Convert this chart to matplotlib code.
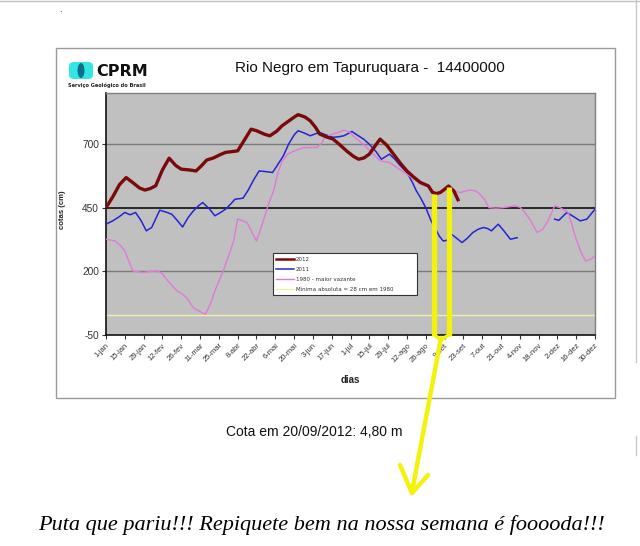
import numpy as np
import matplotlib
matplotlib.use("Agg")
import matplotlib.pyplot as plt
from matplotlib.patches import Rectangle, FancyBboxPatch, Ellipse
from matplotlib.lines import Line2D

# ---------------- data ----------------
days_2012 = [0,5,10,15,20,25,29,33,37,42,47,52,56,62,67,71,75,80,85,89,94,98,103,108,112,115,118,122,127,131,
             136,140,143,148,152,156,159,164,169,174,179,184,188,192,196,200,204,209,214,219,224,229,234,240,243,
             246,249,252,255,259,262]
vals_2012 = [450,492,540,568,548,527,519,525,536,598,644,615,601,598,594,614,637,645,658,667,670,673,715,758,752,
             745,738,732,750,771,790,805,815,806,791,765,739,728,719,697,673,652,640,645,660,690,719,695,660,625,
             594,570,549,535,510,505,510,522,535,515,481]

days_2011 = [0,5,10,14,18,22,26,30,34,40,45,49,53,57,61,65,69,72,77,81,85,89,93,96,102,106,110,114,118,124,
             128,132,136,140,143,148,152,156,159,164,169,173,177,180,183,187,192,196,201,205,208,211,215,219,224,
             228,231,234,238,242,246,248,251,254,257,261,265,269,273,277,281,284,287,290,292,296,301,306,320,334,
             337,343,348,353,358,364]
vals_2011 = [385,398,415,431,422,431,400,359,372,440,432,424,400,374,410,437,458,470,445,418,430,444,465,483,487,
             520,560,594,592,588,620,653,700,735,752,742,732,740,745,735,726,728,732,740,749,735,718,699,670,640,
             650,660,640,615,588,550,516,490,450,398,360,339,319,322,346,330,313,330,352,365,372,368,359,375,385,
             360,326,332,np.nan,405,400,431,415,398,405,444]

days_1980 = [0,7,11,14,17,20,24,28,33,39,42,45,49,53,57,60,65,69,74,78,81,86,90,95,98,101,105,109,112,116,
             121,125,128,131,135,140,147,152,157,160,163,169,173,177,181,184,189,194,199,204,208,211,216,220,224,
             229,234,240,245,250,255,259,264,268,271,275,278,282,285,290,296,304,308,311,316,321,325,329,334,338,
             344,350,354,357,360,364]
vals_1980 = [326,319,300,280,240,201,198,195,200,201,190,169,145,123,110,97,57,45,31,75,123,185,241,319,405,400,
             391,350,319,380,464,520,588,630,660,672,686,686,686,700,726,739,745,754,748,732,710,686,660,634,630,
             627,610,595,581,562,542,533,508,515,530,515,509,516,519,516,505,480,450,448,450,457,452,437,400,352,
             365,398,457,450,431,326,270,241,245,260]

min_abs = 28
ref_level = 450
tick_days = list(range(0, 365, 14))
tick_labels = ['1-jan','15-jan','29-jan','12-fev','26-fev','11-mar','25-mar','8-abr','22-abr','6-mai','20-mai',
               '3-jun','17-jun','1-jul','15-jul','29-jul','12-ago','26-ago','9-set','23-set','7-out','21-out',
               '4-nov','18-nov','2-dez','16-dez','30-dez']
y_ticks = [-50, 200, 450, 700]
series_labels = ['2012', '2011', '1980 - maior vazante', 'Mínima absoluta = 28 cm em 1980']
highlight_days = [244.5, 255]

# ---------------- figure ----------------
W, H = 640, 546
fig = plt.figure(figsize=(W/100, H/100), dpi=100)
fig.patch.set_facecolor('white')

def fx(x):
    return x / W

def fy(y):
    return 1 - y / H

# chart frame
fig.add_artist(Rectangle((fx(56), fy(398)), fx(615) - fx(56), fy(48) - fy(398),
                         transform=fig.transFigure, fill=False, edgecolor='#9a9a9a', lw=1.0))
# screenshot edges
fig.add_artist(Line2D([0, 1], [fy(0.8), fy(0.8)], transform=fig.transFigure, color='#c0c0c0', lw=1))
fig.add_artist(Line2D([fx(636), fx(636)], [fy(0), fy(362)], transform=fig.transFigure, color='#c8c8c8', lw=1))
fig.add_artist(Line2D([fx(636), fx(636)], [fy(436), fy(455)], transform=fig.transFigure, color='#c8c8c8', lw=1))
fig.text(fx(60), fy(12), '.', fontsize=6, color='black', ha='center', va='baseline')

ax = fig.add_axes([fx(106), fy(335), fx(595) - fx(106), fy(93) - fy(335)])
ax.set_facecolor('#c0c0c0')
ax.set_xlim(0, 364)
ax.set_ylim(-50, 900)

for v in (200, 700):
    ax.axhline(v, color='#7a7a7a', lw=1.0, zorder=1)
ax.axhline(ref_level, color='black', lw=1.1, zorder=1)

ax.plot(days_2011, vals_2011, color='#2424d6', lw=1.1, zorder=3, label=series_labels[1])
ax.plot(days_1980, vals_1980, color='#e07ad8', lw=1.0, zorder=3, label=series_labels[2])
ax.plot(days_2012, vals_2012, color='#7a0a0a', lw=2.4, zorder=4, label=series_labels[0])
ax.axhline(min_abs, color='#f0f0a8', lw=1.0, zorder=2, label=series_labels[3])

ax.set_xticks(tick_days)
ax.set_xticklabels(tick_labels, rotation=45, ha='right', va='top', fontsize=5.5, color='#333333',
                   rotation_mode='anchor')
ax.set_yticks(y_ticks)
ax.set_yticklabels([str(v) for v in y_ticks], fontsize=7.3, color='#333333', family='Liberation Sans')
ax.tick_params(axis='x', length=3, width=0.8, pad=2, color='#333333')
ax.tick_params(axis='y', length=3, width=0.8, pad=2, color='#333333')
for s in ('top', 'right'):
    ax.spines[s].set_color('#808080')
    ax.spines[s].set_linewidth(1.0)
for s in ('left', 'bottom'):
    ax.spines[s].set_color('#111111')
    ax.spines[s].set_linewidth(1.2)

for t in ax.get_xticklabels():
    t.set_family('Liberation Sans')

fig.text(fx(63), fy(210), 'cotas (cm)', rotation=90, ha='center', va='center', fontsize=5.6,
         fontweight='bold', family='Liberation Sans', color='#222222')
fig.text(fx(350), fy(380), 'dias', ha='center', va='center', fontsize=7, fontweight='bold',
         family='Liberation Sans', color='#222222')

# legend
handles, labels = ax.get_legend_handles_labels()
order = [labels.index(l) for l in series_labels]
leg = ax.legend([handles[i] for i in order], [labels[i] for i in order],
                loc='lower left', bbox_to_anchor=((273 - 106) / 489, (335 - 295) / 242,
                                                  (417 - 273) / 489, (295 - 252) / 242),
                mode='expand', fontsize=4.0, frameon=True, fancybox=False, edgecolor='#333333',
                framealpha=1, borderpad=0.6, labelspacing=0.9, handlelength=3.2, handletextpad=0.3,
                borderaxespad=0)
leg.get_frame().set_linewidth(0.8)
for t in leg.get_texts():
    t.set_color('#333333')
leg.legend_handles[0].set_linewidth(1.8)
leg.set_zorder(5)

# title and logo
fig.text(fx(370), fy(68), 'Rio Negro em Tapuruquara -  14400000', ha='center', va='center',
         fontsize=11, family='Liberation Sans', color='#111111')
fig.add_artist(FancyBboxPatch((fx(69), fy(79)), fx(24), fy(62) - fy(79),
                              boxstyle='round,pad=0.0,rounding_size=0.008', transform=fig.transFigure,
                              facecolor='#33e6e6', edgecolor='none'))
fig.add_artist(Ellipse((fx(81), fy(70.5)), fx(7), fy(63) - fy(78), transform=fig.transFigure,
                       facecolor='#0c6f8a', edgecolor='none'))
fig.text(fx(96), fy(71.5), 'CPRM', ha='left', va='center', fontsize=11.5, fontweight='bold',
         family='DejaVu Sans', color='#111111')
fig.text(fx(68), fy(85.5), 'Serviço Geológico do Brasil', ha='left', va='center', fontsize=3.6,
         fontweight='bold', family='DejaVu Sans', color='#222222')

# texts below
fig.text(fx(314), fy(432), 'Cota em 20/09/2012: 4,80 m', ha='center', va='center', fontsize=10,
         family='Liberation Sans', color='#111111')
fig.text(fx(38), fy(525), 'Puta que pariu!!! Repiquete bem na nossa semana é fooooda!!!', ha='left',
         va='center', fontsize=16, style='italic', family='Liberation Serif', color='black')

# yellow highlight annotations
yel = '#f2f20a'
for d in highlight_days:
    top = np.interp(d, days_2012, vals_2012)
    ax.plot([d, d], [top - 5, -52], color=yel, lw=3.8, solid_capstyle='butt', zorder=6, clip_on=False)
fig.add_artist(Line2D([fx(434.5), fx(441), fx(448.5)], [fy(335), fy(340), fy(335)], transform=fig.transFigure,
                      color=yel, lw=2.5, solid_joinstyle='round'))
fig.add_artist(Line2D([fx(441), fx(412)], [fy(338), fy(492)], transform=fig.transFigure, color=yel, lw=3.2,
                      solid_capstyle='round'))
fig.add_artist(Line2D([fx(400), fx(412), fx(428)], [fy(465), fy(493), fy(475)], transform=fig.transFigure,
                      color=yel, lw=3.2, solid_capstyle='round', solid_joinstyle='round'))

fig.savefig('out.png', dpi=100)
